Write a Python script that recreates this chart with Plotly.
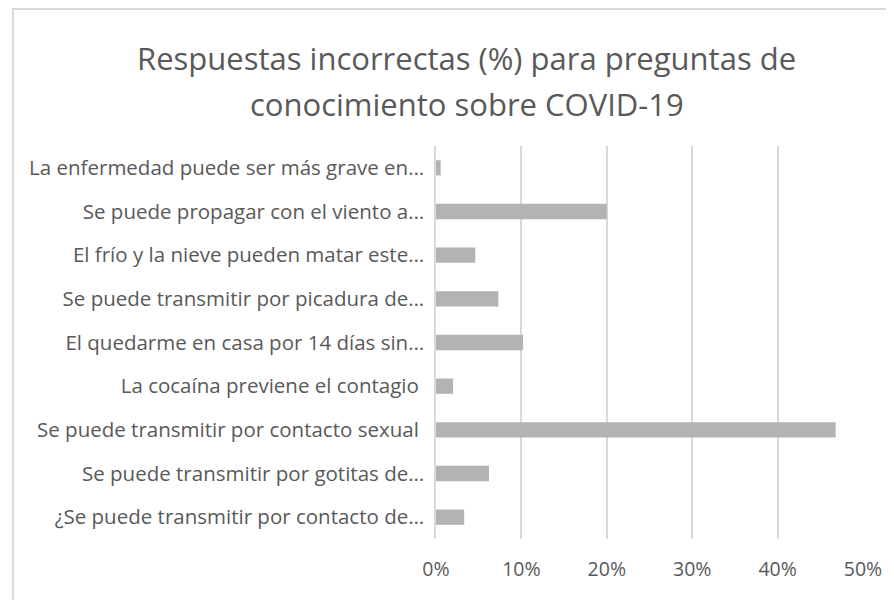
import plotly.graph_objects as go

categories = [
    "¿Se puede transmitir por contacto de…",
    "Se puede transmitir por gotitas de…",
    "Se puede transmitir por contacto sexual ",
    "La cocaína previene el contagio ",
    "El quedarme en casa por 14 días sin…",
    "Se puede transmitir por picadura de…",
    "El frío y la nieve pueden matar este…",
    "Se puede propagar con el viento a…",
    "La enfermedad puede ser más grave en…",
]
values = [0.033, 0.062, 0.468, 0.020, 0.102, 0.073, 0.046, 0.200, 0.0055]
tick_vals = [0, 0.1, 0.2, 0.3, 0.4, 0.5]
title_lines = [
    "Respuestas incorrectas (%) para preguntas de",
    "conocimiento sobre COVID-19",
]

TXT = "#595959"
FONT = "Open Sans"

fig = go.Figure(go.Bar(
    y=categories, x=values, orientation="h",
    marker=dict(color="#b3b3b3", line=dict(width=0)),
    width=0.35,
))

# page body has an 8px margin, so the figure is sized/offset to compensate
W, H = 886, 592
ml, mr, mt, mb = 428, 27, 138, 61
pw, ph = W - ml - mr, H - mt - mb

title_y = [50, 96]
annotations = [
    dict(
        text=t, xref="paper", yref="paper",
        x=(459 - ml) / pw, y=(H - mb - ty) / ph,
        xanchor="center", yanchor="middle", showarrow=False,
        font=dict(family=FONT, size=31, color=TXT),
    )
    for t, ty in zip(title_lines, title_y)
]

fig.update_layout(
    width=W, height=H,
    margin=dict(l=ml, r=mr, t=mt, b=mb),
    paper_bgcolor="white", plot_bgcolor="white",
    showlegend=False,
    annotations=annotations,
    xaxis=dict(
        range=[0, 0.5], tickvals=tick_vals, tickformat=".0%",
        showgrid=True, gridcolor="#d9d9d9", gridwidth=1.5,
        zeroline=False, showline=False, ticks="",
        tickfont=dict(family=FONT, size=19.5, color=TXT),
        ticklabelstandoff=16,
    ),
    yaxis=dict(
        showgrid=False, zeroline=False,
        showline=True, linecolor="#d9d9d9", linewidth=1.5,
        ticks="", tickfont=dict(family=FONT, size=20.5, color=TXT),
        ticklabelstandoff=6,
    ),
    shapes=[dict(
        type="rect", xref="paper", yref="paper",
        x0=(1 - ml) / pw, x1=(905 - ml) / pw,
        y0=(H - 610 - mb) / ph, y1=(H - 1 - mb) / ph,
        line=dict(color="#d9d9d9", width=2), fillcolor="rgba(0,0,0,0)",
        layer="below",
    )],
)

fig.write_html("out.html")
